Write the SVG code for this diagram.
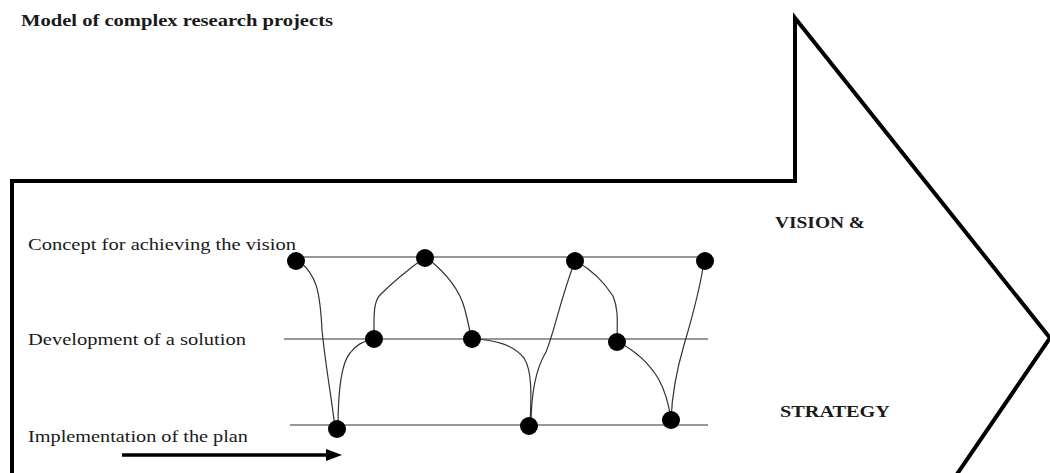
<svg xmlns="http://www.w3.org/2000/svg" width="1050" height="473" viewBox="0 0 1050 473">
<style>
.t{font-family:"Liberation Serif","Times New Roman",serif;fill:#1a1a1a;font-size:16px}
.b{font-weight:bold}
.lane{stroke:#333;stroke-width:1.2;fill:none}
.c{stroke:#333;stroke-width:1.2;fill:none}
.dot{fill:#000}
</style>
<rect width="1050" height="473" fill="#fff"/>
<g id="outline">
<path d="M12,480 L12,181 L795,181 L795,18 L1050,338 L953,480" fill="none" stroke="#000" stroke-width="4" stroke-linejoin="miter"/>
</g>
<g id="title"><text class="t b" x="21" y="26" font-size="15" textLength="312" lengthAdjust="spacingAndGlyphs">Model of complex research projects</text></g>
<g id="labels">
<text class="t" x="28" y="250" textLength="268" lengthAdjust="spacingAndGlyphs">Concept for achieving the vision</text>
<text class="t" x="28" y="345" textLength="218" lengthAdjust="spacingAndGlyphs">Development of a solution</text>
<text class="t" x="28" y="442" textLength="220" lengthAdjust="spacingAndGlyphs">Implementation of the plan</text>
<text class="t b" x="775" y="228" textLength="90" lengthAdjust="spacingAndGlyphs">VISION &amp;</text>
<text class="t b" x="780" y="417" textLength="110" lengthAdjust="spacingAndGlyphs">STRATEGY</text>
</g>
<g id="lanes">
<line class="lane" x1="295" y1="257" x2="706" y2="257"/>
<line class="lane" x1="284" y1="339" x2="708" y2="339"/>
<line class="lane" x1="290" y1="425" x2="708" y2="425"/>
</g>
<g id="connectors">
<path class="c" d="M300,262 C316,275 320,290 322,330 C326,370 332,400 335,428"/>
<path class="c" d="M338,428 C338,395 340,365 350,353 C356,345 362,342 372,339"/>
<path class="c" d="M374,338 C374,318 373,302 380,295 C392,283 405,272 424,258"/>
<path class="c" d="M427,258 C445,272 460,290 465,310 C468,322 470,330 471,338"/>
<path class="c" d="M473,339 C495,340 512,344 524,358 C533,372 531,400 530,426"/>
<path class="c" d="M531,426 C531,395 535,370 546,352 C555,330 560,300 575,261"/>
<path class="c" d="M576,261 C592,270 604,282 613,296 C619,310 617,325 617,342"/>
<path class="c" d="M618,342 C634,350 648,362 658,378 C666,392 669,405 671,420"/>
<path class="c" d="M671,420 C672,395 676,372 684,345 C692,318 700,290 704,261"/>
</g>
<g id="dots">
<circle class="dot" cx="296" cy="261" r="9"/>
<circle class="dot" cx="425" cy="258" r="9"/>
<circle class="dot" cx="575" cy="261" r="9"/>
<circle class="dot" cx="705" cy="261" r="9"/>
<circle class="dot" cx="374" cy="339" r="9"/>
<circle class="dot" cx="472" cy="339" r="9"/>
<circle class="dot" cx="617" cy="342" r="9"/>
<circle class="dot" cx="337" cy="429" r="9"/>
<circle class="dot" cx="529" cy="426" r="9"/>
<circle class="dot" cx="671" cy="420" r="9"/>
</g>
<g id="arrow">
<line x1="122" y1="455" x2="328" y2="455" stroke="#000" stroke-width="3.5"/>
<path d="M326,449 L342,455 L326,461 Z" fill="#000"/>
</g>
</svg>
